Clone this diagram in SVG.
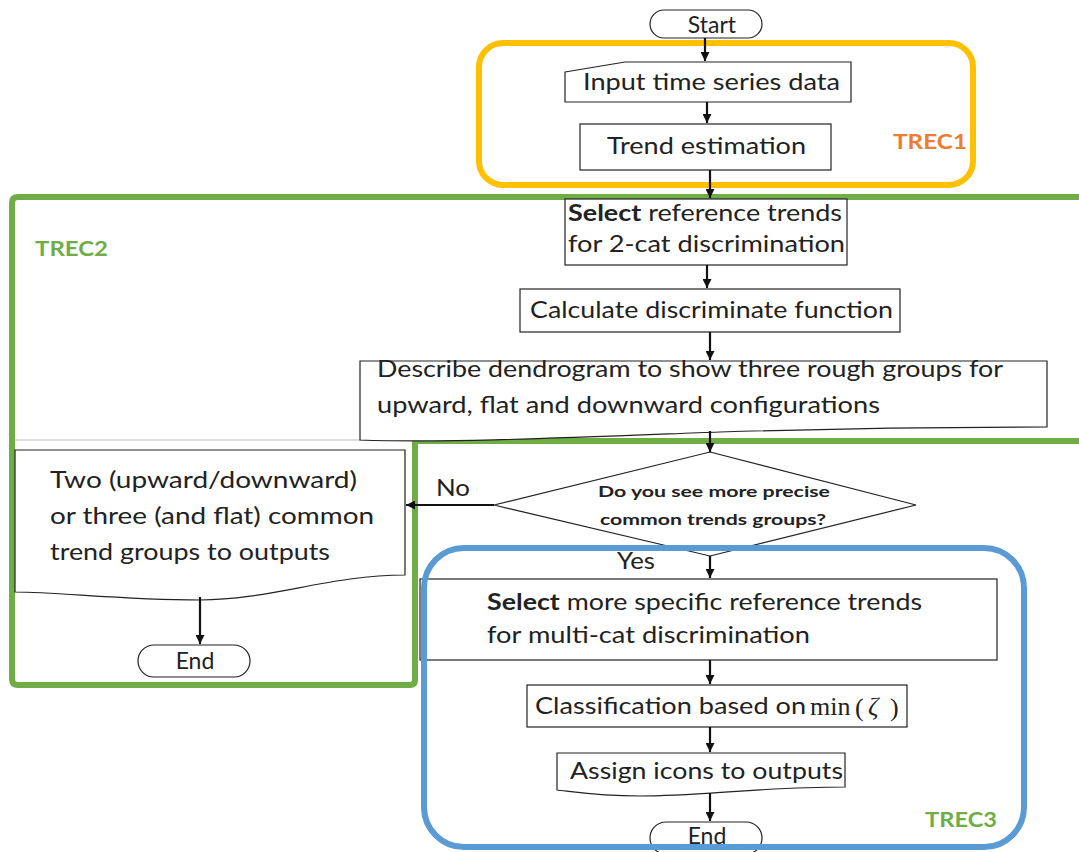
<svg xmlns="http://www.w3.org/2000/svg" width="1079" height="852" viewBox="0 0 1079 852">
<defs>
<style>
.t{font-family:Lato,"Open Sans","Liberation Sans",sans-serif;font-size:23px;fill:#222}
.b{font-weight:bold}
.q{font-family:Lato,"Open Sans","Liberation Sans",sans-serif;font-size:16px;font-weight:bold;fill:#222}
.lab{font-family:Lato,"Open Sans","Liberation Sans",sans-serif;font-size:20px;font-weight:bold}
.m{font-family:"Liberation Serif",serif;font-size:26px;fill:#222}
.sh{fill:#fff;stroke:#222;stroke-width:1.2}
.c{stroke:#111;stroke-width:2.2;fill:none}
</style>
<marker id="ah" viewBox="0 0 10 10" refX="10" refY="5" markerWidth="9" markerHeight="9" markerUnits="userSpaceOnUse" orient="auto">
<path d="M0,0 L10,5 L0,10 Z" fill="#111"/>
</marker>
</defs>
<rect width="1079" height="852" fill="#fff"/>

<g id="trec1">
<rect x="479" y="43" width="494" height="142" rx="24" fill="none" stroke="#FFC000" stroke-width="6"/>
<text class="lab" x="893" y="149" fill="#ED7D31" textLength="74" lengthAdjust="spacingAndGlyphs">TREC1</text>
</g>

<g id="trec2">
<path d="M1085,197 H18 Q12,197 12,203 V679 Q12,685 18,685 H410 Q415,685 415,680 V441 H1085" fill="none" stroke="#70AD47" stroke-width="6"/>
<line x1="15" y1="440" x2="405" y2="440" stroke="#bbb" stroke-width="1"/>
<text class="lab" x="35" y="256" fill="#70AD47" textLength="73" lengthAdjust="spacingAndGlyphs">TREC2</text>
</g>

<g id="start">
<rect class="sh" x="650" y="10" width="112" height="28" rx="14"/>
<text class="t" x="712" y="33" text-anchor="middle">Start</text>
</g>

<g id="input">
<polygon class="sh" points="565,72 625,62 851,62 851,102 565,102"/>
<text class="t" x="583" y="90" textLength="257" lengthAdjust="spacingAndGlyphs">Input time series data</text>
</g>

<g id="trend">
<rect class="sh" x="580" y="124" width="251" height="46"/>
<text class="t" x="607" y="154" textLength="199" lengthAdjust="spacingAndGlyphs">Trend estimation</text>
</g>

<g id="select2">
<rect class="sh" x="565" y="199" width="282" height="66"/>
<text class="t" x="568" y="221" textLength="274" lengthAdjust="spacingAndGlyphs"><tspan class="b">Select</tspan> reference trends</text>
<text class="t" x="568" y="252" textLength="277" lengthAdjust="spacingAndGlyphs">for 2-cat discrimination</text>
</g>

<g id="calc">
<rect class="sh" x="520" y="289" width="380" height="43"/>
<text class="t" x="530" y="318" textLength="363" lengthAdjust="spacingAndGlyphs">Calculate discriminate function</text>
</g>

<g id="describe">
<path class="sh" d="M360,361 H1047 V427 C950,427 850,428 720,432 C560,438 450,443 360,440 Z"/>
<text class="t" x="377" y="377" textLength="626" lengthAdjust="spacingAndGlyphs">Describe dendrogram to show three rough groups for</text>
<text class="t" x="377" y="413" textLength="503" lengthAdjust="spacingAndGlyphs">upward, flat and downward configurations</text>
</g>

<g id="decision">
<polygon class="sh" points="710,452 916,505 710,556 494,505"/>
<text class="q" x="714" y="497" text-anchor="middle" textLength="232" lengthAdjust="spacingAndGlyphs">Do you see more precise</text>
<text class="q" x="713" y="525" text-anchor="middle" textLength="226" lengthAdjust="spacingAndGlyphs">common trends groups?</text>
</g>

<g id="output2">
<path class="sh" d="M15,450 H405 V575 C330,575 270,600 200,600 C120,600 60,592 15,592 Z"/>
<text class="t" x="50" y="488" textLength="307" lengthAdjust="spacingAndGlyphs">Two (upward/downward)</text>
<text class="t" x="50" y="524" textLength="324" lengthAdjust="spacingAndGlyphs">or three (and flat) common</text>
<text class="t" x="50" y="560" textLength="280" lengthAdjust="spacingAndGlyphs">trend groups to outputs</text>
</g>

<g id="end1">
<rect class="sh" x="138" y="645" width="112" height="32" rx="16"/>
<text class="t" x="195" y="669" text-anchor="middle">End</text>
</g>

<g id="selectmulti">
<rect class="sh" x="420" y="579" width="577" height="81"/>
<text class="t" x="487" y="610" textLength="435" lengthAdjust="spacingAndGlyphs"><tspan class="b">Select</tspan> more specific reference trends</text>
<text class="t" x="487" y="643" textLength="323" lengthAdjust="spacingAndGlyphs">for multi-cat discrimination</text>
</g>

<g id="classify">
<rect class="sh" x="527" y="685" width="380" height="42"/>
<text class="t" x="535" y="714" textLength="271" lengthAdjust="spacingAndGlyphs">Classification based on</text>
<text class="m" x="810" y="715">min</text>
<text class="m" x="855" y="716" font-size="30">(</text>
<text class="m" x="868" y="715" font-style="italic">ζ</text>
<text class="m" x="890" y="716" font-size="30">)</text>
</g>

<g id="assign">
<path class="sh" d="M557,753 H845 V787 C760,787 700,796 640,796 C600,796 575,792 557,790 Z"/>
<text class="t" x="570" y="779" textLength="273" lengthAdjust="spacingAndGlyphs">Assign icons to outputs</text>
</g>

<g id="end2">
<rect class="sh" x="650" y="822" width="112" height="32" rx="16"/>
<text class="t" x="707" y="844" text-anchor="middle">End</text>
</g>

<g id="trec3">
<rect x="424" y="548" width="600" height="299" rx="40" fill="none" stroke="#5B9BD5" stroke-width="6"/>
<text class="lab" x="925" y="827" fill="#70AD47" textLength="72" lengthAdjust="spacingAndGlyphs">TREC3</text>
</g>

<g id="connectors">
<line class="c" x1="705" y1="38" x2="705" y2="61" marker-end="url(#ah)"/>
<line class="c" x1="707" y1="102" x2="707" y2="123" marker-end="url(#ah)"/>
<line class="c" x1="710" y1="170" x2="710" y2="198" marker-end="url(#ah)"/>
<line class="c" x1="707" y1="265" x2="707" y2="288" marker-end="url(#ah)"/>
<line class="c" x1="710" y1="332" x2="710" y2="360" marker-end="url(#ah)"/>
<line class="c" x1="710" y1="431" x2="710" y2="452" marker-end="url(#ah)"/>
<line class="c" x1="710" y1="556" x2="710" y2="578" marker-end="url(#ah)"/>
<line class="c" x1="494" y1="505" x2="406" y2="505" marker-end="url(#ah)"/>
<text class="t" x="436" y="496" textLength="34" lengthAdjust="spacingAndGlyphs">No</text>
<text class="t" x="617" y="569" textLength="38" lengthAdjust="spacingAndGlyphs">Yes</text>
<line class="c" x1="200" y1="597" x2="200" y2="644" marker-end="url(#ah)"/>
<line class="c" x1="710" y1="660" x2="710" y2="684" marker-end="url(#ah)"/>
<line class="c" x1="710" y1="727" x2="710" y2="752" marker-end="url(#ah)"/>
<line class="c" x1="710" y1="793" x2="710" y2="821" marker-end="url(#ah)"/>
</g>
</svg>
